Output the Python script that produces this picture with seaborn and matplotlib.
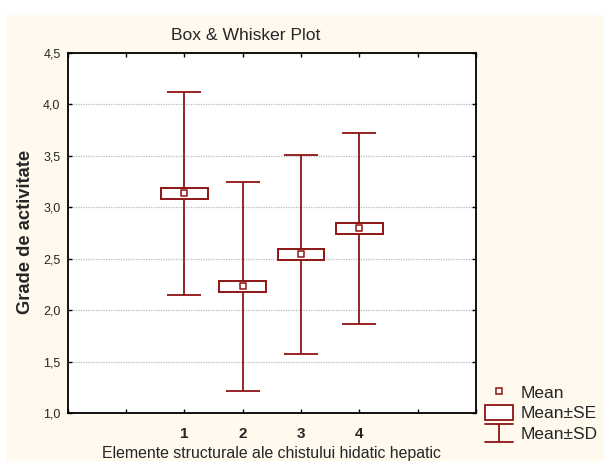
import numpy as np
import pandas as pd
import seaborn as sns
import matplotlib
matplotlib.use("Agg")
import matplotlib.pyplot as plt
from matplotlib.patches import Rectangle, Patch
from matplotlib.lines import Line2D
from matplotlib.legend_handler import HandlerBase
from matplotlib.ticker import FixedLocator, FuncFormatter

# ---- data ----
categories = [1, 2, 3, 4]
means = [3.136, 2.232, 2.543, 2.797]
se = [0.055, 0.055, 0.054, 0.053]
sd = [0.985, 1.016, 0.967, 0.930]
x_ticks = [-1, 0, 1, 2, 3, 4, 5, 6]
x_tick_labels = ["", "", "1", "2", "3", "4", "", ""]
y_ticks = [1.0, 1.5, 2.0, 2.5, 3.0, 3.5, 4.0, 4.5]
title = "Box & Whisker Plot"
xlabel = "Elemente structurale ale chistului hidatic hepatic"
ylabel = "Grade de activitate"
legend_labels = ["Mean", "Mean±SE", "Mean±SD"]

RED = "#8E1414"
CREAM = "#FFF9EE"

sns.set_style("white")
plt.rcParams["font.family"] = ["Liberation Sans", "DejaVu Sans"]

df = pd.DataFrame({"cat": categories, "mean": means, "se": se, "sd": sd})

W, H = 605, 461
fig = plt.figure(figsize=(W / 100, H / 100), dpi=100)
fig.patch.set_facecolor("white")
fig.patches.append(Rectangle((6 / W, 0), (604 - 6) / W, (H - 15) / H,
                             transform=fig.transFigure, facecolor=CREAM,
                             edgecolor="none", zorder=-10))

ax = fig.add_axes([67.5 / W, (H - 413) / H, (476 - 67.5) / W, (413 - 53) / H])
ax.set_facecolor("white")

# whiskers (mean ± SD)
ax.errorbar(df["cat"], df["mean"], yerr=df["sd"], fmt="none", ecolor=RED,
            elinewidth=1.3, capsize=12, capthick=1.3, zorder=2)
# boxes (mean ± SE)
ax.bar(df["cat"], 2 * df["se"], bottom=df["mean"] - df["se"], width=0.8,
       facecolor="white", edgecolor=RED, linewidth=1.4, zorder=3)
# means
sns.scatterplot(data=df, x="cat", y="mean", marker="s", s=16,
                facecolor="white", edgecolor=RED, linewidth=1.1,
                ax=ax, zorder=4, legend=False)

ax.set_xlim(-1, 6)
ax.set_ylim(1.0, 4.5)
ax.xaxis.set_major_locator(FixedLocator(x_ticks))
ax.set_xticklabels(x_tick_labels, fontsize=11, fontweight="bold")
ax.yaxis.set_major_locator(FixedLocator(y_ticks))
ax.yaxis.set_major_formatter(FuncFormatter(lambda v, p: f"{v:.1f}".replace(".", ",")))
ax.tick_params(axis="both", direction="in", length=3, width=1, color="black",
               top=True, right=True, bottom=True, left=True)
ax.tick_params(axis="y", labelsize=9, pad=5)
ax.tick_params(axis="x", pad=10)
ax.set_xlabel("")
ax.set_ylabel("")
ax.grid(axis="y", color="#BBBBBB", linestyle=(0, (1, 1)), linewidth=0.9)
ax.set_axisbelow(True)
for s in ax.spines.values():
    s.set_visible(True)
    s.set_color("black")
    s.set_linewidth(1.3)

fig.text(246 / W, (H - 35) / H, title, ha="center", va="center", fontsize=12.6)
fig.text(271 / W, (H - 453) / H, xlabel, ha="center", va="center", fontsize=11.4)
fig.text(26 / W, (H - 232) / H, ylabel, ha="center", va="center", rotation=90,
         fontsize=13.2, fontweight="bold")


class HandlerSD(HandlerBase):
    def create_artists(self, legend, orig_handle, xdescent, ydescent, width,
                       height, fontsize, trans):
        x0, x1 = -xdescent, -xdescent + width
        xm = (x0 + x1) / 2
        yc = -ydescent + height / 2
        half = 0.5 * fontsize
        y0, y1 = yc - half, yc + half
        arts = [
            Line2D([x0, x1], [y1, y1], color=RED, lw=1.3),
            Line2D([x0, x1], [y0, y0], color=RED, lw=1.3),
            Line2D([xm, xm], [y0, y1], color=RED, lw=1.3),
        ]
        for a in arts:
            a.set_transform(trans)
        return arts


class SDHandle:
    pass


handles = [
    Line2D([], [], marker="s", ls="none", mfc="white", mec=RED, ms=4, mew=1.1),
    Patch(facecolor="white", edgecolor=RED, linewidth=1.3),
    SDHandle(),
]
fig.legend(handles, legend_labels, handler_map={SDHandle: HandlerSD()},
           loc="upper left", bbox_to_anchor=(485 / W, (H - 384) / H),
           frameon=False, fontsize=12.5, handlelength=1.6, handleheight=1.0,
           handletextpad=0.45, labelspacing=0.22, borderpad=0, borderaxespad=0)

fig.savefig("out.png", dpi=100, facecolor=fig.get_facecolor())
